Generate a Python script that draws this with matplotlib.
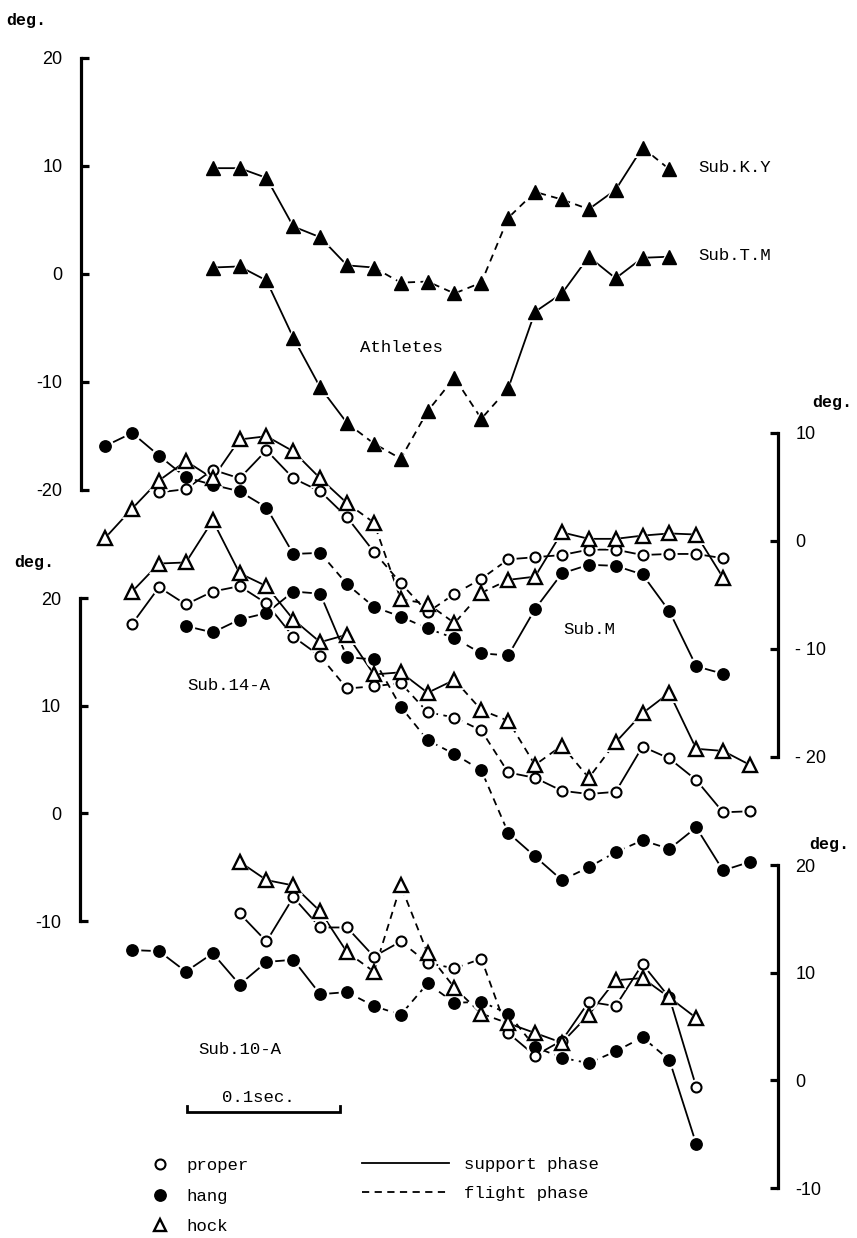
import numpy as np
import matplotlib
matplotlib.use("Agg")
import matplotlib.pyplot as plt
from matplotlib.lines import Line2D
import matplotlib.transforms as mtransforms

plt.rcParams['axes.unicode_minus'] = False

# ------------------------------------------------------------------ data
# angle in degrees; first frame index of each series; phase of each segment
# ('s' = support phase, 'f' = flight phase)
FPS = 57.0          # frames per second (0.1 s scale bar)

# Athletes (filled triangles)
ky_start = 4
ky_vals = [9.8, 9.8, 8.9, 4.4, 3.4, 0.8, 0.6, -0.8, -0.7, -1.8, -0.8, 5.2,
           7.6, 6.9, 6.0, 7.8, 11.7, 9.7]
ky_phase = "ssssss" + "ffffffff" + "ss" + "f"

tm_start = 4
tm_vals = [0.6, 0.7, -0.6, -5.9, -10.5, -13.8, -15.7, -17.1, -12.7, -9.6,
           -13.4, -10.6, -3.5, -1.8, 1.6, -0.4, 1.5, 1.6]
tm_phase = "sssss" + "ffffff" + "ssssss"

# Sub.M
m_hang_start = 0
m_hang = [8.8, 10.0, 7.9, 5.9, 5.2, 4.6, 3.1, -1.2, -1.1, -4.0, -6.1, -7.0,
          -8.1, -9.0, -10.4, -10.6, -6.3, -3.0, -2.2, -2.3, -3.1, -6.5, -11.6, -12.3]
m_hang_phase = "ssssssss" + "fffffff" + "ssssssss"

m_proper_start = 2
m_proper = [4.5, 4.8, 6.6, 5.8, 8.4, 5.8, 4.6, 2.2, -1.0, -3.9, -6.6, -4.9,
            -3.5, -1.7, -1.5, -1.3, -0.8, -0.8, -1.3, -1.2, -1.2, -1.6]
m_proper_phase = "ssssssss" + "fffff" + "ssssssss"

m_hock_start = 0
m_hock = [0.3, 3.0, 5.6, 7.4, 5.8, 9.4, 9.7, 8.3, 5.8, 3.5, 1.7, -5.4, -5.8,
          -7.6, -4.8, -3.6, -3.3, 0.8, 0.2, 0.2, 0.5, 0.7, 0.6, -3.4]
m_hock_phase = "sssssssss" + "ffffff" + "ssssssss"

# Sub.14-A
a14_hock_start = 1
a14_hock = [20.6, 23.2, 23.3, 27.2, 22.3, 21.1, 18.0, 15.9, 16.6, 12.9, 13.1,
            11.2, 12.4, 9.6, 8.6, 4.5, 6.3, 3.3, 6.6, 9.3, 11.2, 6.0, 5.8, 4.5]
a14_hock_phase = "ssssssssssss" + "ffffff" + "sssss"

a14_proper_start = 1
a14_proper = [17.6, 21.0, 19.4, 20.6, 21.1, 19.5, 16.4, 14.6, 11.6, 11.8, 12.1,
              9.4, 8.9, 7.7, 3.8, 3.3, 2.1, 1.8, 2.0, 6.2, 5.1, 3.1, 0.1, 0.2]
a14_proper_phase = "sssssss" + "fffffff" + "sssssssss"

a14_hang_start = 3
a14_hang = [17.4, 16.8, 18.0, 18.6, 20.6, 20.4, 14.5, 14.3, 9.9, 6.8, 5.5, 4.0,
            -1.8, -4.0, -6.2, -5.0, -3.6, -2.5, -3.3, -1.3, -5.3, -4.5]
a14_hang_phase = "sssssss" + "fffff" + "ss" + "ffff" + "sss"

# Sub.10-A
a10_hang_start = 1
a10_hang = [12.1, 12.0, 10.1, 11.8, 8.9, 11.0, 11.2, 8.0, 8.2, 6.9, 6.1, 9.0,
            7.2, 7.3, 6.2, 3.1, 2.1, 1.6, 2.7, 4.0, 1.9, -5.9]
a10_hang_phase = "ssssssss" + "ffffffffffff" + "s"

a10_proper_start = 5
a10_proper = [15.5, 12.9, 17.0, 14.2, 14.2, 11.5, 12.9, 10.9, 10.4, 11.3, 4.4,
              2.3, 3.7, 7.3, 6.9, 10.8, 7.7, -0.6]
a10_proper_phase = "ssssss" + "ffff" + "sssssss"

a10_hock_start = 5
a10_hock = [20.3, 18.6, 18.1, 15.7, 11.9, 10.1, 18.1, 11.8, 8.6, 6.2, 5.3, 4.4,
            3.5, 6.1, 9.3, 9.5, 7.7, 5.8]
a10_hock_phase = "ssss" + "ffffff" + "sssssss"

# ------------------------------------------------------------------ layout
W, H = 857, 1238
X0_PX, PX_PER_FRAME = 105.3, 26.86
XLIM = (-X0_PX / PX_PER_FRAME, (W - X0_PX) / PX_PER_FRAME)

MONO = ['Liberation Mono', 'DejaVu Sans Mono']
SANS = ['Liberation Sans', 'DejaVu Sans']

fig = plt.figure(figsize=(W / 100, H / 100), dpi=100)
fig.patch.set_facecolor('white')


def fx(px):
    return px / W


def fy(py):
    return 1 - py / H


def make_axes(v0, y0, ppd, side, spine_px, lo, hi, labels):
    ax = fig.add_axes([0, 0, 1, 1], facecolor='none')
    ax.set_xlim(*XLIM)
    ax.set_ylim(v0 - (H - y0) / ppd, v0 + y0 / ppd)
    for s in ax.spines.values():
        s.set_visible(False)
    ax.set_xticks([])
    sp = ax.spines[side]
    sp.set_visible(True)
    sp.set_position(('data', (spine_px - X0_PX) / PX_PER_FRAME))
    sp.set_bounds(lo, hi)
    sp.set_linewidth(2.3)
    if side == 'left':
        ax.yaxis.tick_left()
        pad = 13.5
    else:
        ax.yaxis.tick_right()
        pad = 12.5
    ticks = np.arange(hi, lo - 1, -10)
    ax.set_yticks(ticks)
    ax.set_yticklabels(labels, fontfamily=SANS, fontsize=13)
    ax.tick_params(axis='y', direction='in', length=6, width=2.3, pad=pad)
    return ax


ax_ath = make_axes(20, 58, 10.8, 'left', 81, -20, 20, ['20', '10', '0', '-10', '-20'])
ax_m = make_axes(10, 433, 10.8, 'right', 778, -20, 10, ['10', '0', '- 10', '- 20'])
ax_14 = make_axes(20, 598, 10.77, 'left', 80, -10, 20, ['20', '10', '0', '-10'])
ax_10 = make_axes(20, 865, 10.77, 'right', 778, -10, 20, ['20', '10', '0', '-10'])

STYLES = {
    'proper': dict(marker='o', ms=7.2, mfc='white', mec='black', mew=1.5),
    'hang': dict(marker='o', ms=8.2, mfc='black', mec='black', mew=1.0),
    'hock': dict(marker='^', ms=9.5, mfc='white', mec='black', mew=1.7),
    'athlete': dict(marker='^', ms=9.5, mfc='black', mec='black', mew=1.0),
}
DASH = (0, (4, 3))


def draw_series(ax, start, vals, phase, kind):
    x = start + np.arange(len(vals))
    y = np.asarray(vals, float)
    i = 0
    while i < len(phase):
        j = i
        while j < len(phase) and phase[j] == phase[i]:
            j += 1
        ls = '-' if phase[i] == 's' else DASH
        ax.plot(x[i:j + 1], y[i:j + 1], color='black', lw=1.3, ls=ls,
                zorder=1, solid_capstyle='butt', dash_capstyle='butt')
        i = j
    st = STYLES[kind]
    ax.plot(x, y, ls='none', marker=st['marker'], ms=st['ms'] + 4.5,
            mfc='white', mec='white', mew=0, zorder=2)
    ax.plot(x, y, ls='none', zorder=3, **st)


draw_series(ax_ath, ky_start, ky_vals, ky_phase, 'athlete')
draw_series(ax_ath, tm_start, tm_vals, tm_phase, 'athlete')

draw_series(ax_m, m_hang_start, m_hang, m_hang_phase, 'hang')
draw_series(ax_m, m_proper_start, m_proper, m_proper_phase, 'proper')
draw_series(ax_m, m_hock_start, m_hock, m_hock_phase, 'hock')

draw_series(ax_14, a14_hang_start, a14_hang, a14_hang_phase, 'hang')
draw_series(ax_14, a14_proper_start, a14_proper, a14_proper_phase, 'proper')
draw_series(ax_14, a14_hock_start, a14_hock, a14_hock_phase, 'hock')

draw_series(ax_10, a10_hang_start, a10_hang, a10_hang_phase, 'hang')
draw_series(ax_10, a10_proper_start, a10_proper, a10_proper_phase, 'proper')
draw_series(ax_10, a10_hock_start, a10_hock, a10_hock_phase, 'hock')

# ------------------------------------------------------------------ texts
def label(px, py, s, ha='left', weight='normal', size=12.5):
    fig.text(fx(px), fy(py), s, ha=ha, va='center', fontfamily=MONO,
             fontsize=size, fontweight=weight)


label(6, 20, 'deg.', weight='bold', size=12)
label(14, 563, 'deg.', weight='bold', size=12)
label(812, 403, 'deg.', weight='bold', size=12)
label(809, 845, 'deg.', weight='bold', size=12)

label(698, 167, 'Sub.K.Y')
label(698, 255, 'Sub.T.M')
label(360, 347, 'Athletes')
label(563, 629, 'Sub.M')
label(187, 686, 'Sub.14-A')
label(198, 1049, 'Sub.10-A')
label(258, 1097, '0.1sec.', ha='center')

# scale bar: 0.1 s
bar_x0 = (187 - X0_PX) / PX_PER_FRAME
bar_x1 = bar_x0 + 0.1 * FPS
trans = mtransforms.blended_transform_factory(ax_10.transData, fig.transFigure)
ax_10.plot([bar_x0, bar_x0, bar_x1, bar_x1],
           [fy(1106), fy(1112), fy(1112), fy(1106)],
           transform=trans, color='black', lw=2.0, clip_on=False,
           solid_joinstyle='miter')

# ------------------------------------------------------------------ legends
mk_handles = [Line2D([], [], ls='none', **STYLES['proper']),
              Line2D([], [], ls='none', **STYLES['hang']),
              Line2D([], [], ls='none', **{**STYLES['hock'], 'ms': 8.5})]
leg1 = fig.legend(mk_handles, ['proper', 'hang', 'hock'], loc='upper left',
                  bbox_to_anchor=(fx(151), fy(1158)), frameon=False,
                  prop={'family': MONO, 'size': 12.5}, handlelength=1.0,
                  handletextpad=1.05, labelspacing=0.88, borderpad=0,
                  borderaxespad=0)

ln_handles = [Line2D([], [], color='black', lw=1.3, ls='-'),
              Line2D([], [], color='black', lw=1.3, ls=DASH)]
leg2 = fig.legend(ln_handles, ['support phase', 'flight phase'], loc='upper left',
                  bbox_to_anchor=(fx(362), fy(1157)), frameon=False,
                  prop={'family': MONO, 'size': 12.5}, handlelength=5.0,
                  handletextpad=0.9, labelspacing=0.78, borderpad=0,
                  borderaxespad=0)

fig.savefig('out.png', dpi=100, facecolor='white')
